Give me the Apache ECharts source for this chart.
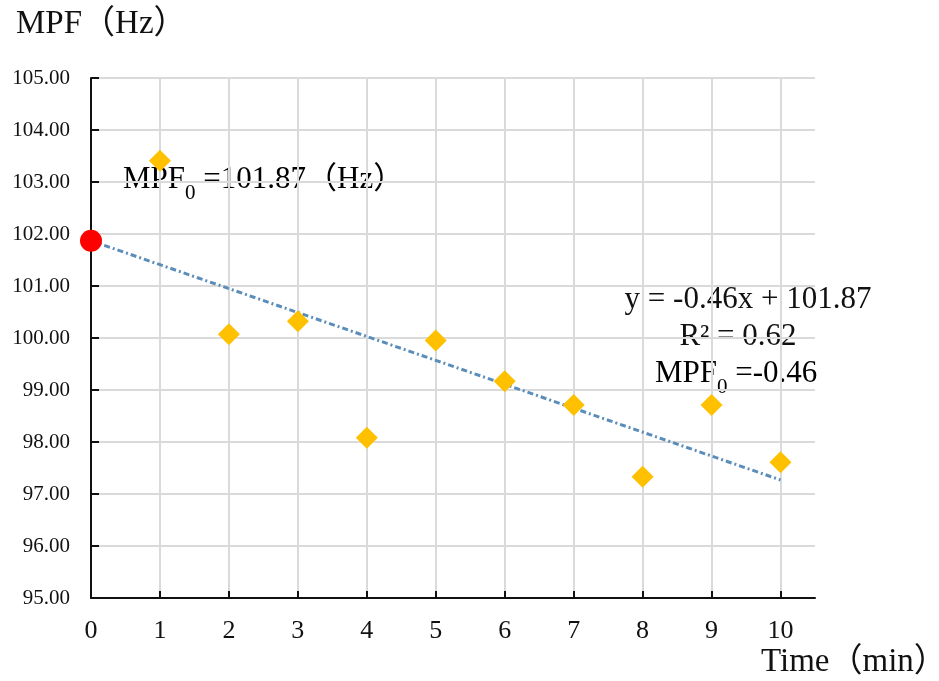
<!DOCTYPE html>
<html>
<head>
<meta charset="utf-8">
<script src="https://cdn.jsdelivr.net/npm/echarts@6/dist/echarts.min.js"></script>
<style>
  html, body { margin: 0; padding: 0; background: #fff; }
  #chart { width: 939px; height: 681px; }
</style>
</head>
<body>
<div id="chart"></div>
<script>
// values
const times = [1, 2, 3, 4, 5, 6, 7, 8, 9, 10];
const mpf = [103.41, 100.07, 100.32, 98.08, 99.95, 99.17, 98.71, 97.33, 98.71, 97.61];
const startPoint = [0, 101.87];
const trendX = [0, 10];
const trendY = [101.87, 97.27];

const serif = "'Liberation Serif', 'Noto Sans CJK SC', serif";
const textColor = '#111';

const chart = echarts.init(document.getElementById('chart'));

// rich-text styles for the "MPF0" subscript labels
const rich = {
    n: { fontSize: 31, fontFamily: serif, color: textColor, lineHeight: 40, verticalAlign: 'top' },
    s: { fontSize: 21, fontFamily: serif, color: textColor, lineHeight: 20, verticalAlign: 'bottom' }
};

const option = {
    animation: false,
    backgroundColor: '#fff',
    grid: { left: 91, right: 124, top: 78, bottom: 83 },
    xAxis: {
        type: 'value',
        min: 0,
        max: 10.5,
        interval: 1,
        axisLine: { show: true, onZero: false, lineStyle: { color: '#111', width: 2 } },
        axisTick: { show: true, inside: true, length: 7, lineStyle: { color: '#111', width: 2 } },
        axisLabel: {
            showMaxLabel: false,
            fontSize: 26, fontFamily: serif, color: textColor, margin: 20
        },
        splitLine: { show: true, showMinLine: false, showMaxLine: false, lineStyle: { color: '#dadada', width: 2 } }
    },
    yAxis: {
        type: 'value',
        min: 95,
        max: 105,
        interval: 1,
        axisLine: { show: true, onZero: false, lineStyle: { color: '#111', width: 2 } },
        axisTick: { show: true, inside: true, length: 8, lineStyle: { color: '#111', width: 2 } },
        axisLabel: {
            fontSize: 21, fontFamily: serif, color: textColor, margin: 21,
            formatter: v => v.toFixed(2)
        },
        splitLine: { show: true, showMinLine: false, lineStyle: { color: '#dadada', width: 2 } }
    },
    series: [
        {
            name: 'trend',
            type: 'line',
            data: trendX.map((x, i) => [x, trendY[i]]),
            showSymbol: false,
            silent: true,
            z: 3,
            lineStyle: { color: '#5b8dba', width: 3, type: [6, 3, 2, 3] }
        },
        {
            name: 'MPF',
            type: 'scatter',
            data: times.map((t, i) => [t, mpf[i]]),
            symbol: 'diamond',
            symbolSize: 22,
            z: 4,
            itemStyle: { color: '#ffc000', opacity: 1 }
        },
        {
            name: 'MPF0',
            type: 'scatter',
            data: [startPoint],
            symbol: 'circle',
            symbolSize: 22,
            clip: false,
            z: 5,
            itemStyle: { color: '#ff0000', opacity: 1 }
        }
    ],
    graphic: [
        {
            type: 'text', left: 16, top: 8,
            style: { text: 'MPF（Hz）', fontSize: 33, fontFamily: serif, fill: textColor }
        },
        {
            type: 'text', left: 761, top: 646,
            style: { text: 'Time（min）', fontSize: 33, fontFamily: serif, fill: textColor }
        },
        {
            type: 'text', x: 123, y: 164,
            style: { text: '{n|MPF}{s|0}{n| =101.87（Hz）}', rich: rich }
        },
        {
            type: 'text', x: 748, y: 300,
            style: { text: 'y = -0.46x + 101.87', fontSize: 31, fontFamily: serif, fill: textColor, align: 'center', verticalAlign: 'middle' }
        },
        {
            type: 'text', x: 738, y: 337,
            style: { text: 'R² = 0.62', fontSize: 31, fontFamily: serif, fill: textColor, align: 'center', verticalAlign: 'middle' }
        },
        {
            type: 'text', x: 655, y: 358,
            style: { text: '{n|MPF}{s|0}{n| =-0.46}', rich: rich }
        }
    ]
};

chart.setOption(option);
</script>
</body>
</html>
